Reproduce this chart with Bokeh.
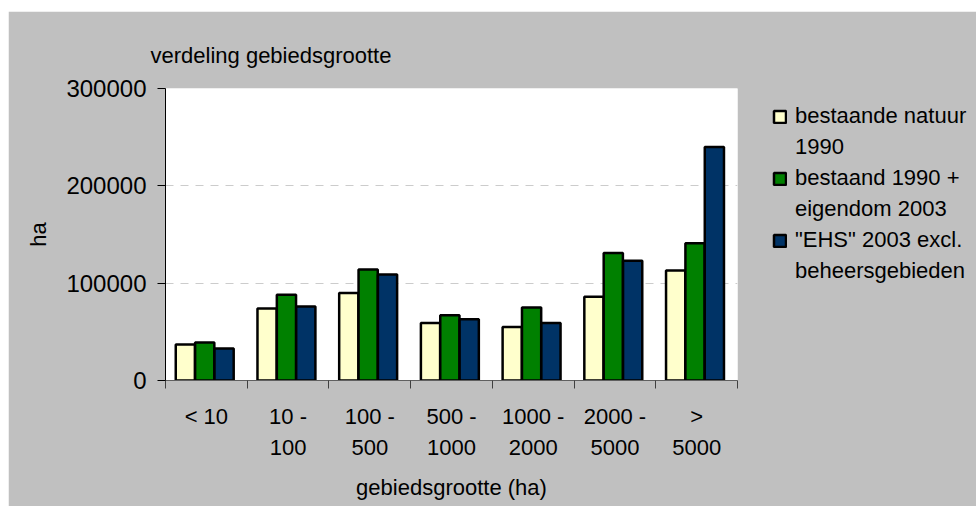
from bokeh.plotting import figure
from bokeh.models import (ColumnDataSource, FixedTicker, Legend, LegendItem,
                          Range1d, BasicTickFormatter)
from bokeh.transform import dodge
from bokeh.embed import file_html
from bokeh.resources import INLINE

# ---- data ----
categories = ["< 10", "10 -\n100", "100 -\n500", "500 -\n1000",
              "1000 -\n2000", "2000 -\n5000", ">\n5000"]
bestaande_natuur_1990 = [37000, 74000, 90000, 59000, 55000, 86000, 113000]
bestaand_1990_eigendom_2003 = [39000, 88000, 114000, 67000, 75000, 131000, 141000]
ehs_2003_excl_beheer = [33000, 76000, 109000, 63000, 59000, 123000, 240000]
series_names = [["bestaande natuur", "1990"], ["bestaand 1990 +", "eigendom 2003"],
                ["\"EHS\" 2003 excl.", "beheersgebieden"]]
y_ticks = [0, 100000, 200000, 300000]

FONT = "Liberation Sans"
GRAY = "#c0c0c0"

src = ColumnDataSource(dict(
    x=[i + 0.48 for i in range(len(categories))],
    a=bestaande_natuur_1990,
    b=bestaand_1990_eigendom_2003,
    c=ehs_2003_excl_beheer,
))

p = figure(frame_width=572, frame_height=292, output_backend="svg",
           toolbar_location=None,
           x_range=Range1d(0, len(categories)), y_range=Range1d(0, 300000),
           min_border_left=157, min_border_right=239, min_border_top=77,
           min_border_bottom=126)
p.margin = (11, 0, 0, 8)
p.border_fill_color = GRAY
p.background_fill_color = "white"
p.outline_line_color = None

w = 0.235
colors = ["#ffffcc", "#008000", "#003366"]
r1 = p.vbar(x=dodge("x", -0.237, range=p.x_range), top="a", width=w, source=src,
            fill_color=colors[0], line_color="black", line_width=2.5)
r2 = p.vbar(x=dodge("x", 0.0, range=p.x_range), top="b", width=w, source=src,
            fill_color=colors[1], line_color="black", line_width=2.5)
r3 = p.vbar(x=dodge("x", 0.237, range=p.x_range), top="c", width=w, source=src,
            fill_color=colors[2], line_color="black", line_width=2.5)

# x axis: labels at category centres, tick marks at boundaries
xa = p.xaxis[0]
xa.ticker = FixedTicker(ticks=[i + 0.5 for i in range(len(categories))],
                        minor_ticks=list(range(len(categories) + 1)))
xa.major_label_overrides = {i + 0.5: c for i, c in enumerate(categories)}
xa.major_tick_line_color = None
xa.minor_tick_in = 0
xa.minor_tick_out = 8
xa.minor_tick_line_color = "#404040"
xa.axis_line_color = "#606060"
xa.major_label_text_font = FONT
xa.major_label_text_font_size = "22px"
xa.major_label_text_color = "black"
xa.major_label_text_line_height = 1.25
xa.major_label_standoff = 15
xa.axis_label = "gebiedsgrootte (ha)"
xa.axis_label_text_font = FONT
xa.axis_label_text_font_size = "22px"
xa.axis_label_text_font_style = "normal"
xa.axis_label_text_color = "black"
xa.axis_label_standoff = 12

ya = p.yaxis[0]
ya.ticker = FixedTicker(ticks=y_ticks)
ya.formatter = BasicTickFormatter(use_scientific=False)
ya.minor_tick_line_color = None
ya.major_tick_in = 0
ya.major_tick_out = 8
ya.axis_line_color = "black"
ya.major_tick_line_color = "black"
ya.major_label_text_font = FONT
ya.major_label_text_font_size = "24px"
ya.major_label_text_color = "black"
ya.major_label_standoff = 11
ya.axis_label = "ha"
ya.axis_label_text_font = FONT
ya.axis_label_text_font_size = "22px"
ya.axis_label_text_font_style = "normal"
ya.axis_label_text_color = "black"
ya.axis_label_standoff = 12

p.xgrid.grid_line_color = None
p.ygrid.grid_line_color = "#cccccc"
p.ygrid.grid_line_dash = "8 7"
p.ygrid.grid_line_width = 1

p.title.text = "verdeling gebiedsgrootte"
p.title.text_font = FONT
p.title.text_font_size = "22px"
p.title.text_font_style = "normal"
p.title.text_color = "black"
p.title.align = "left"
p.title.offset = -15
p.title.standoff = 41

items = []
for name, r in zip(series_names, [r1, r2, r3]):
    items.append(LegendItem(label=name[0], renderers=[r]))
    items.append(LegendItem(label=name[1], renderers=[]))

legend = Legend(items=items, location=(35, 96), orientation="vertical",
                border_line_color=None, background_fill_alpha=0,
                padding=0, margin=0, spacing=5,
                glyph_width=15, glyph_height=15, label_standoff=8,
                label_height=26,
                label_text_font=FONT, label_text_font_size="22px",
                label_text_color="black")
p.add_layout(legend, "right")

open("out.html", "w").write(file_html(p, INLINE))
